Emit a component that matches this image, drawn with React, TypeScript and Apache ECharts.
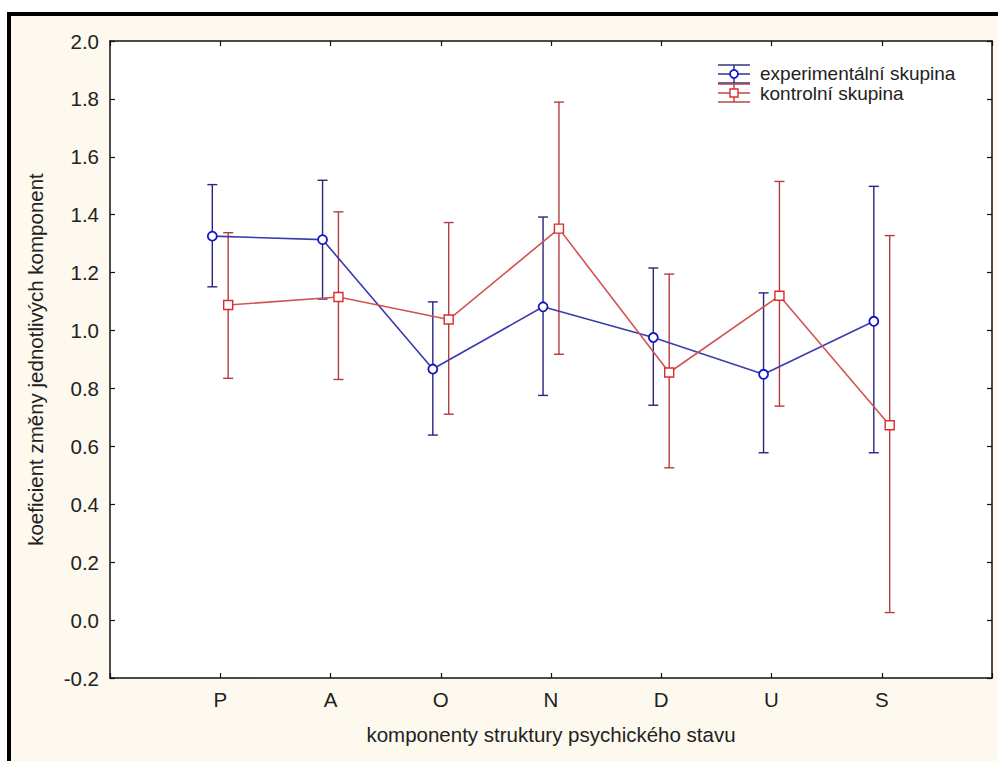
import React, { useEffect, useRef } from "react";
import * as echarts from "echarts";

const categories = ["P", "A", "O", "N", "D", "U", "S"];
const expMean = [1.326, 1.314, 0.867, 1.082, 0.976, 0.849, 1.032];
const expLow = [1.151, 1.109, 0.639, 0.776, 0.742, 0.578, 0.578];
const expHigh = [1.504, 1.519, 1.099, 1.392, 1.216, 1.13, 1.498];
const ctrlMean = [1.088, 1.116, 1.038, 1.352, 0.855, 1.12, 0.673];
const ctrlLow = [0.835, 0.831, 0.711, 0.918, 0.526, 0.739, 0.026];
const ctrlHigh = [1.338, 1.41, 1.373, 1.789, 1.195, 1.515, 1.328];
const yTicks = [-0.2, 2.0, 0.2];

const seriesNames = ["experimentální skupina", "kontrolní skupina"];
const FONT = "'Liberation Sans', Arial, sans-serif";
const FS = 20.5;
const LFS = 19;

const BLUE_LINE = "#3b3bb0";
const BLUE_MARK = "#1414c8";
const BLUE_BAR = "#26267e";
const RED_LINE = "#d05454";
const RED_MARK = "#e02a2a";
const RED_BAR = "#b53c3c";

const OFF = 0.072;

function errRender(color: string) {
  return (params: any, api: any) => {
    const x = api.value(0);
    const lo = api.coord([x, api.value(1)]);
    const hi = api.coord([x, api.value(2)]);
    const hw = 5;
    const style = { stroke: color, lineWidth: 1.4 };
    return {
      type: "group",
      children: [
        { type: "line", shape: { x1: lo[0], y1: lo[1], x2: hi[0], y2: hi[1] }, style },
        { type: "line", shape: { x1: lo[0] - hw, y1: lo[1], x2: lo[0] + hw, y2: lo[1] }, style },
        { type: "line", shape: { x1: hi[0] - hw, y1: hi[1], x2: hi[0] + hw, y2: hi[1] }, style },
      ],
    };
  };
}

function legendGlyph(cy: number, barColor: string, markColor: string, square: boolean) {
  const x1 = 718;
  const x2 = 750;
  const cx = 734;
  const st = { stroke: barColor, lineWidth: 1.4 };
  const items: any[] = [
    { type: "line", shape: { x1, y1: cy - 9, x2, y2: cy - 9 }, style: st, z: 100 },
    { type: "line", shape: { x1, y1: cy, x2, y2: cy }, style: st, z: 100 },
    { type: "line", shape: { x1, y1: cy + 9, x2, y2: cy + 9 }, style: st, z: 100 },
    { type: "line", shape: { x1: cx, y1: cy - 9, x2: cx, y2: cy + 9 }, style: st, z: 100 },
  ];
  if (square) {
    items.push({
      type: "rect",
      shape: { x: cx - 4, y: cy - 4, width: 8, height: 8 },
      style: { fill: "#fff", stroke: markColor, lineWidth: 1.4 },
      z: 101,
    });
  } else {
    items.push({
      type: "circle",
      shape: { cx, cy, r: 4 },
      style: { fill: "#fff", stroke: markColor, lineWidth: 1.8 },
      z: 101,
    });
  }
  return items;
}

export default function App() {
  const ref = useRef<HTMLDivElement>(null);
  useEffect(() => {
    if (!ref.current) return;
    const chart = echarts.init(ref.current, null, { renderer: "svg" });

    const expPts = expMean.map((v, i) => [i + 1 - OFF, v]);
    const ctrlPts = ctrlMean.map((v, i) => [i + 1 + OFF, v]);
    const expErr = expMean.map((_, i) => [i + 1 - OFF, expLow[i], expHigh[i]]);
    const ctrlErr = ctrlMean.map((_, i) => [i + 1 + OFF, ctrlLow[i], ctrlHigh[i]]);

    const axisLine = { show: true, onZero: false, lineStyle: { color: "#111", width: 1.5 } };
    const axisTick = { show: true, inside: true, length: 5, lineStyle: { color: "#111", width: 1.2 } };

    chart.setOption({
      animation: false,
      backgroundColor: "#ffffff",
      textStyle: { fontFamily: FONT },
      grid: {
        left: 110,
        right: 6,
        top: 41,
        bottom: 83,
        show: true,
        backgroundColor: "#ffffff",
        borderWidth: 0,
      },
      graphic: [
        {
          type: "rect",
          shape: { x: 9, y: 14, width: 1000, height: 760 },
          style: { fill: "#fdf9ef", stroke: "#000", lineWidth: 4 },
          z: -10,
        },
        ...legendGlyph(74, BLUE_BAR, BLUE_MARK, false),
        ...legendGlyph(93, RED_BAR, RED_MARK, true),
        {
          type: "text",
          x: 760,
          y: 73.5,
          style: { text: seriesNames[0], fill: "#222", font: `${LFS}px ${FONT}`, textVerticalAlign: "middle" },
          z: 100,
        },
        {
          type: "text",
          x: 760,
          y: 93,
          style: { text: seriesNames[1], fill: "#222", font: `${LFS}px ${FONT}`, textVerticalAlign: "middle" },
          z: 100,
        },
      ],
      xAxis: [
        {
          type: "value",
          position: "bottom",
          min: 0,
          max: categories.length + 1,
          interval: 1,
          axisLine,
          axisTick,
          splitLine: { show: false },
          axisLabel: {
            color: "#222",
            fontSize: FS,
            fontFamily: FONT,
            margin: 11,
            formatter: (v: number) => categories[Math.round(v) - 1] ?? "",
          },
          name: "komponenty struktury psychického stavu",
          nameLocation: "middle",
          nameGap: 46,
          nameTextStyle: { color: "#222", fontSize: FS, fontFamily: FONT },
        },
        {
          type: "value",
          position: "top",
          min: 0,
          max: categories.length + 1,
          interval: 1,
          axisLine,
          axisTick,
          splitLine: { show: false },
          axisLabel: { show: false },
        },
      ],
      yAxis: [
        {
          type: "value",
          position: "left",
          min: yTicks[0],
          max: yTicks[1],
          interval: yTicks[2],
          axisLine,
          axisTick,
          splitLine: { show: false },
          axisLabel: {
            color: "#222",
            fontSize: FS,
            fontFamily: FONT,
            margin: 11,
            formatter: (v: number) => v.toFixed(1),
          },
          name: "koeficient změny jednotlivých komponent",
          nameLocation: "middle",
          nameGap: 64,
          nameTextStyle: { color: "#222", fontSize: FS, fontFamily: FONT },
        },
        {
          type: "value",
          position: "right",
          min: yTicks[0],
          max: yTicks[1],
          interval: yTicks[2],
          axisLine,
          axisTick,
          splitLine: { show: false },
          axisLabel: { show: false },
        },
      ],
      series: [
        {
          type: "custom",
          name: seriesNames[0] + " err",
          renderItem: errRender(BLUE_BAR),
          data: expErr,
          encode: { x: 0, y: [1, 2] },
          z: 2,
        },
        {
          type: "custom",
          name: seriesNames[1] + " err",
          renderItem: errRender(RED_BAR),
          data: ctrlErr,
          encode: { x: 0, y: [1, 2] },
          z: 2,
        },
        {
          type: "line",
          name: seriesNames[0],
          data: expPts,
          symbol: "circle",
          symbolSize: 9,
          lineStyle: { color: BLUE_LINE, width: 1.6 },
          itemStyle: { color: "#fff", borderColor: BLUE_MARK, borderWidth: 1.8 },
          z: 3,
        },
        {
          type: "line",
          name: seriesNames[1],
          data: ctrlPts,
          symbol: "rect",
          symbolSize: 9,
          lineStyle: { color: RED_LINE, width: 1.6 },
          itemStyle: { color: "#fff", borderColor: RED_MARK, borderWidth: 1.4 },
          z: 3,
        },
      ],
    });
    return () => chart.dispose();
  }, []);
  return (
    <div
      ref={ref}
      style={{ position: "fixed", left: 0, top: 0, width: 998, height: 761 }}
    />
  );
}
